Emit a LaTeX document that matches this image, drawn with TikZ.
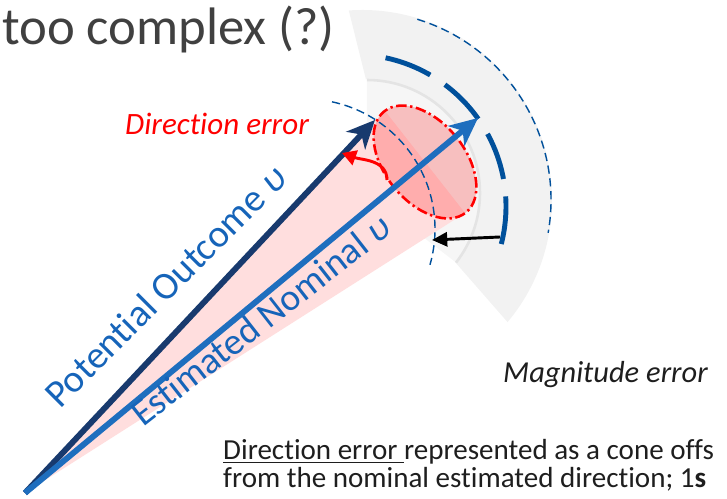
\documentclass[tikz,border=0pt]{standalone}
\usepackage{fontspec}
\setmainfont{Carlito}[Ligatures=NoCommon]
\usepackage{tikz}
\usetikzlibrary{arrows.meta}
\definecolor{TitleGray}{RGB}{64,64,64}
\definecolor{OutcomeNavy}{RGB}{24,58,110}
\definecolor{NominalBlue}{RGB}{30,110,190}
\definecolor{LabelBlue}{RGB}{22,100,185}
\definecolor{ArcBlue}{RGB}{0,80,155}
\definecolor{ConePink}{RGB}{255,222,222}
\definecolor{ZoneGray}{RGB}{242,242,242}
\definecolor{ZoneLight}{RGB}{246,246,246}
\definecolor{ZoneLine}{RGB}{228,228,228}
\definecolor{ErrRed}{RGB}{255,0,0}
\definecolor{TextDark}{RGB}{30,30,30}

\tikzset{
  vecarrow/.style={line width=5pt, -{Stealth[length=24pt,width=22pt,inset=7pt]}},
  thindash/.style={ArcBlue, line width=1.2pt, dash pattern=on 7pt off 4pt},
  lbl/.style={inner sep=0pt, anchor=base west},
}

\begin{document}
\begin{tikzpicture}[x=0.3mm,y=0.3mm]
  \path[use as bounding box] (0,0) rectangle (727,499);

  % magnitude zone
  \fill[ZoneGray] (362,299) ++(94:190) arc[start angle=94, end angle=-40, radius=190]
    -- (455,237) arc[start angle=-38, end angle=90, radius=113] -- cycle;
  \fill[ZoneLight] (367,306) ++(90:113) arc[start angle=90, end angle=-38, radius=113]
    -- (414,269) arc[start angle=-38, end angle=90, radius=60] -- cycle;
  \draw[ZoneLine, line width=2.2pt] (367,306) ++(90:113) arc[start angle=90, end angle=-38, radius=113];

  \coordinate (origin) at (25,6);
  \coordinate (potTip) at (375,379);
  \coordinate (nomTip) at (478,381);
  \coordinate (coneA) at (385,388);
  \coordinate (coneB) at (465,286);

  % direction cone
  \fill[ConePink] (origin) -- (coneA) -- (coneB) -- cycle;
  \draw[ErrRed, line width=2.2pt, fill=ErrRed, fill opacity=0.22,
        dash pattern=on 9pt off 3pt on 2pt off 3pt, shift={(425,337)}, rotate=39]
    (0,0) ellipse [x radius=40, y radius=65];

  % magnitude arcs
  \draw[thindash, shift={(305,270)}] (78:130) arc[start angle=78, end angle=-16, radius=130];
  \draw[thindash, shift={(362,299)}] (73:189) arc[start angle=73, end angle=-10, radius=189];
  \draw[ArcBlue, line width=4.2pt, dash pattern=on 41pt off 15pt, shift={(354,292.5)}]
    (78:152) arc[start angle=78, end angle=-15.5, radius=152];

  % vectors
  \draw[vecarrow, OutcomeNavy] (origin) -- (potTip);
  \draw[vecarrow, NominalBlue] (origin) -- (nomTip);

  \coordinate (turnStart) at (387,319);
  \coordinate (turnEnd) at (342,346);
  \draw[ErrRed, line width=2.5pt, -{Triangle[length=12pt,width=13pt]}]
    (turnStart) to[out=90, in=-20] (turnEnd);

  \coordinate (magStart) at (500,262);
  \coordinate (magEnd) at (432,259);
  \draw[black, line width=2.5pt, -{Triangle[length=13pt,width=12pt]}] (magStart) -- (magEnd);

  % labels
  \node[lbl, TitleGray] (title) at (2,454) {\fontsize{45}{54}\selectfont too complex (?)};
  \node[lbl, ErrRed] (dirLabel) at (125,364) {\fontsize{26.5}{30}\selectfont\itshape Direction error};
  \node[lbl, TextDark] (magLabel) at (503,116) {\fontsize{26}{30}\selectfont\itshape Magnitude error};
  \node[lbl, LabelBlue, rotate=45] (outLabel) at (60,89)
    {\fontsize{33}{38}\selectfont Potential Outcome {\itshape υ}};
  \node[lbl, LabelBlue, rotate=38] (nomLabel) at (143,71)
    {\fontsize{32}{38}\selectfont Estimated Nominal {\itshape υ}};
  \node[lbl, TextDark] (noteA) at (223,39)
    {\fontsize{24.8}{29}\selectfont \underline{Direction error\ }represented as a cone offs};
  \node[lbl, TextDark] (noteB) at (223,11)
    {\fontsize{24.8}{29}\selectfont from the nominal estimated direction; 1\textbf{s}};
\end{tikzpicture}
\end{document}
